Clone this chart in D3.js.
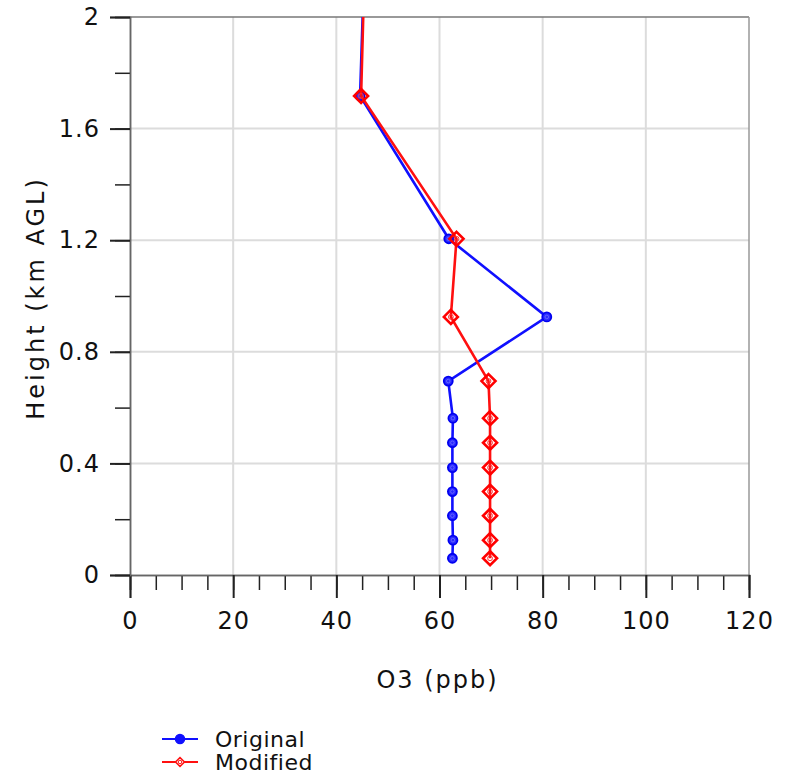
<!DOCTYPE html>
<html>
<head>
<meta charset="utf-8">
<script src="https://cdn.jsdelivr.net/npm/d3@7"></script>
<style>
  body { margin: 0; background: #fff; }
  text { font-family: "DejaVu Sans", sans-serif; fill: #111; }
</style>
</head>
<body>
<svg id="chart" width="786" height="775"></svg>
<script>
// heights (km AGL) of the model levels
const heights = [0.06, 0.125, 0.2125, 0.299, 0.385, 0.474, 0.562, 0.695, 0.925, 1.205, 1.717, 2.4]
const original = [62.5, 62.6, 62.5, 62.5, 62.5, 62.5, 62.6, 61.7, 80.8, 61.8, 44.6, 45.8]
const modified = [69.8, 69.8, 69.8, 69.8, 69.8, 69.8, 69.8, 69.5, 62.2, 63.3, 44.8, 45.8]
const xTicks = [0, 20, 40, 60, 80, 100, 120]
const yTicks = [0, 0.4, 0.8, 1.2, 1.6, 2]

const margin = { top: 17, right: 37, bottom: 200, left: 130 }
const width = 786 - margin.left - margin.right
const height = 775 - margin.top - margin.bottom

const svg = d3.select('#chart')
const g = svg.append('g').attr('transform', `translate(${margin.left},${margin.top})`)

const x = d3.scaleLinear().domain([0, 120]).range([0, width])
const y = d3.scaleLinear().domain([0, 2]).range([height, 0])

// grid
g.append('g').selectAll('line').data(xTicks.slice(1, -1)).join('line')
  .attr('x1', d => x(d)).attr('x2', d => x(d)).attr('y1', 0).attr('y2', height)
  .attr('stroke', '#dcdcdc').attr('stroke-width', 2)
g.append('g').selectAll('line').data(yTicks.slice(1, -1)).join('line')
  .attr('y1', d => y(d)).attr('y2', d => y(d)).attr('x1', 0).attr('x2', width)
  .attr('stroke', '#dcdcdc').attr('stroke-width', 2)

// frame top / right
g.append('line').attr('x1', 0).attr('x2', width).attr('y1', 0).attr('y2', 0)
  .attr('stroke', '#777').attr('stroke-width', 1.5)
g.append('line').attr('x1', width).attr('x2', width).attr('y1', 0).attr('y2', height)
  .attr('stroke', '#999').attr('stroke-width', 1.5)

// axes: minor ticks then major ticks
const xMinor = d3.axisBottom(x).tickValues(d3.range(0, 121, 5)).tickSize(15).tickFormat('')
const xMajor = d3.axisBottom(x).tickValues(xTicks).tickSize(23).tickPadding(14)
const yMinor = d3.axisLeft(y).tickValues(d3.range(0, 2.01, 0.2)).tickSize(15).tickFormat('')
const yMajor = d3.axisLeft(y).tickValues(yTicks).tickSize(20).tickPadding(10)
  .tickFormat(d => d === 0 || d === 2 ? d3.format('d')(d) : d3.format('.1f')(d))

function styleAxis(sel, w) {
  sel.attr('font-family', null)
  sel.select('.domain').attr('stroke', '#666').attr('stroke-width', 1.5)
  sel.selectAll('.tick line').attr('stroke', '#222').attr('stroke-width', w)
  sel.selectAll('.tick text').attr('font-size', 24).attr('letter-spacing', 1).attr('fill', '#111')
}
g.append('g').attr('transform', `translate(0,${height})`).call(xMinor).call(s => styleAxis(s, 1.5))
g.append('g').attr('transform', `translate(0,${height})`).call(xMajor).call(s => styleAxis(s, 2))
g.append('g').call(yMinor).call(s => styleAxis(s, 1.5))
g.append('g').call(yMajor).call(s => styleAxis(s, 2))

// axis titles
svg.append('text').attr('x', margin.left + width / 2 - 2).attr('y', 688)
  .attr('text-anchor', 'middle').attr('font-size', 24).attr('letter-spacing', 2).text('O3 (ppb)')
svg.append('text').attr('transform', `translate(44,${margin.top + height / 2 + 2}) rotate(-90)`)
  .attr('text-anchor', 'middle').attr('font-size', 24).attr('letter-spacing', 3).text('Height (km AGL)')

// data
svg.append('defs').append('clipPath').attr('id', 'clip')
  .append('rect').attr('x', -10).attr('y', 0).attr('width', width + 20).attr('height', height + 10)
const plot = g.append('g').attr('clip-path', 'url(#clip)')

const line = d3.line().x(d => x(d[0])).y(d => y(d[1]))
const origPts = original.map((v, i) => [v, heights[i]])
const modPts = modified.map((v, i) => [v, heights[i]])
const diamondPath = r => `M0,${-r}L${r},0L0,${r}L${-r},0Z`

plot.append('path').datum(origPts).attr('d', line)
  .attr('fill', 'none').attr('stroke', '#1010ff').attr('stroke-width', 2.6)
plot.selectAll('.orig').data(origPts).join('circle').attr('class', 'orig')
  .attr('cx', d => x(d[0])).attr('cy', d => y(d[1])).attr('r', 4.5)
  .attr('fill', '#2a2aff').attr('stroke', '#0000f0').attr('stroke-width', 1.8)
plot.selectAll('.orig-in').data(origPts).join('circle').attr('class', 'orig-in')
  .attr('cx', d => x(d[0])).attr('cy', d => y(d[1])).attr('r', 1.8)
  .attr('fill', 'none').attr('stroke', '#7070ff').attr('stroke-width', 0.8)

plot.append('path').datum(modPts).attr('d', line)
  .attr('fill', 'none').attr('stroke', '#ff1010').attr('stroke-width', 2.6)
plot.selectAll('.mod').data(modPts).join('path').attr('class', 'mod')
  .attr('transform', d => `translate(${x(d[0])},${y(d[1])})`)
  .attr('d', diamondPath(7)).attr('fill', 'none').attr('stroke', '#ff0000').attr('stroke-width', 2.6)
plot.selectAll('.mod-in').data(modPts).join('circle').attr('class', 'mod-in')
  .attr('cx', d => x(d[0])).attr('cy', d => y(d[1])).attr('r', 2.4)
  .attr('fill', 'none').attr('stroke', '#ff3030').attr('stroke-width', 1)

// legend
const legend = [
  { name: 'Original', color: '#1010ff', y: 739, filled: true },
  { name: 'Modified', color: '#ff1010', y: 762, filled: false }
]
const lg = svg.append('g').selectAll('g').data(legend).join('g')
lg.append('line').attr('x1', 162).attr('x2', 198).attr('y1', d => d.y).attr('y2', d => d.y)
  .attr('stroke', d => d.color).attr('stroke-width', 2)
lg.filter(d => d.filled).append('circle').attr('cx', 180).attr('cy', d => d.y).attr('r', 4.5)
  .attr('fill', d => d.color).attr('stroke', d => d.color).attr('stroke-width', 1.5)
lg.filter(d => !d.filled).append('path').attr('transform', d => `translate(180,${d.y})`)
  .attr('d', diamondPath(4.5)).attr('fill', '#fff').attr('stroke', d => d.color).attr('stroke-width', 1.5)
lg.filter(d => !d.filled).append('circle').attr('cx', 180).attr('cy', d => d.y).attr('r', 1.8)
  .attr('fill', 'none').attr('stroke', d => d.color).attr('stroke-width', 1)
lg.append('text').attr('x', 215).attr('y', d => d.y + 8).attr('font-size', 22)
  .attr('letter-spacing', 0.5).text(d => d.name)
</script>
</body>
</html>
